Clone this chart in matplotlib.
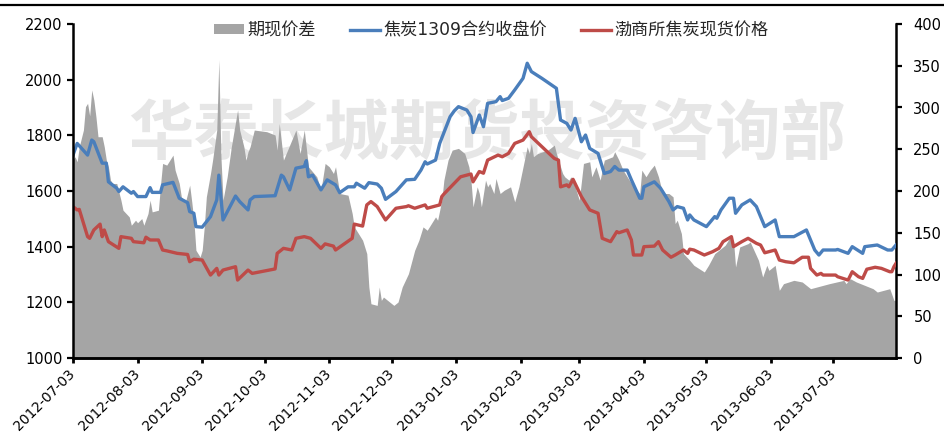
import matplotlib
matplotlib.use("Agg")
import matplotlib.pyplot as plt
from matplotlib.lines import Line2D
from matplotlib.patches import Patch
import pandas as pd

plt.rcParams["font.family"] = ["DejaVu Sans", "Noto Sans CJK SC"]
CJK = ["Noto Sans CJK SC", "DejaVu Sans"]

# ── data ────────────────────────────────────────────────────────────────────
fut_dates = [
    "2012-07-03", "2012-07-05", "2012-07-10", "2012-07-12", "2012-07-13", "2012-07-17",
    "2012-07-19", "2012-07-20", "2012-07-24", "2012-07-25", "2012-07-27", "2012-07-31",
    "2012-08-01", "2012-08-03", "2012-08-07", "2012-08-09", "2012-08-10", "2012-08-14",
    "2012-08-15", "2012-08-20", "2012-08-23", "2012-08-27", "2012-08-28", "2012-08-30",
    "2012-08-31", "2012-09-03", "2012-09-07", "2012-09-10", "2012-09-11", "2012-09-13",
    "2012-09-19", "2012-09-21", "2012-09-25", "2012-09-26", "2012-09-28", "2012-10-08",
    "2012-10-11", "2012-10-12", "2012-10-15", "2012-10-18", "2012-10-22", "2012-10-23",
    "2012-10-24", "2012-10-26", "2012-10-30", "2012-11-02", "2012-11-06", "2012-11-08",
    "2012-11-12", "2012-11-15", "2012-11-16", "2012-11-20", "2012-11-22", "2012-11-26",
    "2012-11-28", "2012-11-30", "2012-12-05", "2012-12-10", "2012-12-14", "2012-12-17",
    "2012-12-19", "2012-12-20", "2012-12-24", "2012-12-26", "2012-12-31", "2013-01-02",
    "2013-01-04", "2013-01-08", "2013-01-10", "2013-01-11", "2013-01-14", "2013-01-16",
    "2013-01-18", "2013-01-22", "2013-01-24", "2013-01-25", "2013-01-28", "2013-01-31",
    "2013-02-04", "2013-02-06", "2013-02-08", "2013-02-13", "2013-02-20", "2013-02-22",
    "2013-02-25", "2013-02-27", "2013-03-01", "2013-03-04", "2013-03-06", "2013-03-08",
    "2013-03-12", "2013-03-15", "2013-03-18", "2013-03-20", "2013-03-22", "2013-03-26",
    "2013-03-28", "2013-04-01", "2013-04-02", "2013-04-03", "2013-04-08", "2013-04-11",
    "2013-04-15", "2013-04-17", "2013-04-19", "2013-04-22", "2013-04-24", "2013-04-25",
    "2013-04-27", "2013-05-03", "2013-05-07", "2013-05-08", "2013-05-10", "2013-05-14",
    "2013-05-16", "2013-05-17", "2013-05-20", "2013-05-24", "2013-05-27", "2013-05-31",
    "2013-06-05", "2013-06-07", "2013-06-14", "2013-06-20", "2013-06-24", "2013-06-26",
    "2013-06-28", "2013-07-04", "2013-07-05", "2013-07-10", "2013-07-12", "2013-07-17",
    "2013-07-18", "2013-07-24", "2013-07-29", "2013-07-31", "2013-08-02",
]
fut_close = [
    1729, 1771, 1729, 1783, 1777, 1700,
    1700, 1633, 1610, 1598, 1615, 1592,
    1598, 1580, 1580, 1612, 1595, 1595,
    1622, 1631, 1574, 1558, 1526, 1520,
    1472, 1470, 1508, 1568, 1657, 1496,
    1582, 1562, 1532, 1568, 1580, 1583,
    1657, 1651, 1604, 1682, 1688, 1709,
    1651, 1657, 1604, 1640, 1622, 1594,
    1615, 1615, 1628, 1610, 1630, 1625,
    1610, 1570, 1598, 1640, 1642, 1675,
    1705, 1697, 1711, 1771, 1867, 1888,
    1903, 1891, 1867, 1810, 1873, 1831,
    1915, 1921, 1939, 1925, 1933, 1963,
    2005, 2059, 2029, 2005, 1969, 1855,
    1843, 1819, 1861, 1777, 1801, 1753,
    1735, 1663, 1670, 1688, 1675, 1675,
    1640, 1574, 1574, 1615, 1633, 1610,
    1562, 1532, 1544, 1538, 1496, 1514,
    1496, 1472, 1508, 1502, 1532, 1574,
    1574, 1520, 1550, 1568, 1544, 1472,
    1496, 1436, 1436, 1460, 1388, 1370,
    1388, 1388, 1390, 1376, 1400, 1376,
    1400, 1406, 1388, 1388, 1406,
]

spot_dates = [
    "2012-07-03", "2012-07-05", "2012-07-06", "2012-07-10", "2012-07-11", "2012-07-13",
    "2012-07-16", "2012-07-17", "2012-07-18", "2012-07-20", "2012-07-25", "2012-07-26",
    "2012-07-31", "2012-08-01", "2012-08-06", "2012-08-07", "2012-08-09", "2012-08-13",
    "2012-08-15", "2012-08-17", "2012-08-22", "2012-08-27", "2012-08-28", "2012-08-30",
    "2012-09-03", "2012-09-07", "2012-09-10", "2012-09-11", "2012-09-13", "2012-09-19",
    "2012-09-20", "2012-09-25", "2012-09-27", "2012-10-08", "2012-10-09", "2012-10-12",
    "2012-10-16", "2012-10-18", "2012-10-22", "2012-10-25", "2012-10-30", "2012-11-01",
    "2012-11-05", "2012-11-06", "2012-11-14", "2012-11-15", "2012-11-19", "2012-11-21",
    "2012-11-23", "2012-11-26", "2012-11-30", "2012-12-05", "2012-12-10", "2012-12-11",
    "2012-12-14", "2012-12-19", "2012-12-20", "2012-12-26", "2012-12-27", "2012-12-28",
    "2013-01-02", "2013-01-05", "2013-01-10", "2013-01-11", "2013-01-14", "2013-01-16",
    "2013-01-18", "2013-01-23", "2013-01-25", "2013-01-28", "2013-01-31", "2013-02-04",
    "2013-02-07", "2013-02-08", "2013-02-19", "2013-02-21", "2013-02-22", "2013-02-25",
    "2013-02-26", "2013-02-28", "2013-03-04", "2013-03-08", "2013-03-12", "2013-03-14",
    "2013-03-18", "2013-03-21", "2013-03-22", "2013-03-26", "2013-03-28", "2013-03-29",
    "2013-04-02", "2013-04-03", "2013-04-08", "2013-04-10", "2013-04-12", "2013-04-16",
    "2013-04-18", "2013-04-22", "2013-04-24", "2013-04-25", "2013-04-27", "2013-05-02",
    "2013-05-06", "2013-05-09", "2013-05-11", "2013-05-15", "2013-05-16", "2013-05-20",
    "2013-05-23", "2013-05-27", "2013-05-29", "2013-05-31", "2013-06-05", "2013-06-07",
    "2013-06-10", "2013-06-14", "2013-06-18", "2013-06-21", "2013-06-22", "2013-06-25",
    "2013-06-27", "2013-06-28", "2013-07-04", "2013-07-05", "2013-07-10", "2013-07-12",
    "2013-07-15", "2013-07-17", "2013-07-19", "2013-07-23", "2013-07-26", "2013-07-30",
    "2013-07-31", "2013-08-01", "2013-08-02",
]
spot_price = [
    1544, 1532, 1534, 1436, 1430, 1460,
    1481, 1436, 1460, 1418, 1394, 1436,
    1430, 1418, 1414, 1434, 1424, 1424,
    1388, 1385, 1376, 1372, 1346, 1355,
    1352, 1298, 1322, 1298, 1316, 1328,
    1280, 1316, 1304, 1320, 1376, 1394,
    1388, 1430, 1436, 1430, 1394, 1410,
    1402, 1388, 1430, 1481, 1474, 1550,
    1562, 1544, 1496, 1538, 1544, 1547,
    1538, 1550, 1538, 1550, 1580, 1589,
    1628, 1651, 1661, 1633, 1670, 1664,
    1711, 1729, 1723, 1735, 1771, 1783,
    1813, 1795, 1717, 1711, 1615, 1622,
    1615, 1642, 1580, 1532, 1520, 1430,
    1418, 1454, 1450, 1460, 1424, 1370,
    1370, 1400, 1402, 1418, 1388, 1362,
    1370, 1388, 1376, 1391, 1388, 1370,
    1382, 1394, 1418, 1436, 1400, 1418,
    1430, 1412, 1406, 1378, 1388, 1352,
    1346, 1342, 1362, 1362, 1322, 1298,
    1304, 1298, 1298, 1292, 1280, 1310,
    1292, 1286, 1319, 1326, 1322, 1310,
    1310, 1328, 1340,
]

spread_dates = [
    "2012-07-03", "2012-07-04", "2012-07-05", "2012-07-06", "2012-07-08", "2012-07-09",
    "2012-07-10", "2012-07-11", "2012-07-12", "2012-07-13", "2012-07-14", "2012-07-15",
    "2012-07-17", "2012-07-18", "2012-07-19", "2012-07-20", "2012-07-21", "2012-07-22",
    "2012-07-24", "2012-07-26", "2012-07-27", "2012-07-30", "2012-07-31", "2012-08-02",
    "2012-08-03", "2012-08-05", "2012-08-06", "2012-08-08", "2012-08-09", "2012-08-10",
    "2012-08-13", "2012-08-14", "2012-08-15", "2012-08-17", "2012-08-20", "2012-08-21",
    "2012-08-23", "2012-08-24", "2012-08-26", "2012-08-28", "2012-08-29", "2012-08-30",
    "2012-08-31", "2012-09-01", "2012-09-02", "2012-09-03", "2012-09-04", "2012-09-05",
    "2012-09-07", "2012-09-08", "2012-09-10", "2012-09-11", "2012-09-12", "2012-09-13",
    "2012-09-15", "2012-09-17", "2012-09-20", "2012-09-21", "2012-09-23", "2012-09-24",
    "2012-09-25", "2012-09-26", "2012-09-28", "2012-10-04", "2012-10-08", "2012-10-09",
    "2012-10-10", "2012-10-12", "2012-10-18", "2012-10-20", "2012-10-22", "2012-10-24",
    "2012-10-28", "2012-10-30", "2012-11-01", "2012-11-03", "2012-11-05", "2012-11-06",
    "2012-11-08", "2012-11-12", "2012-11-14", "2012-11-15", "2012-11-19", "2012-11-21",
    "2012-11-22", "2012-11-23", "2012-11-26", "2012-11-27", "2012-11-28", "2012-11-29",
    "2012-12-02", "2012-12-04", "2012-12-06", "2012-12-08", "2012-12-11", "2012-12-14",
    "2012-12-16", "2012-12-18", "2012-12-20", "2012-12-22", "2012-12-24", "2012-12-25",
    "2012-12-27", "2012-12-28", "2012-12-30", "2013-01-01", "2013-01-04", "2013-01-07",
    "2013-01-09", "2013-01-10", "2013-01-11", "2013-01-13", "2013-01-14", "2013-01-15",
    "2013-01-17", "2013-01-18", "2013-01-19", "2013-01-21", "2013-01-22", "2013-01-24",
    "2013-01-26", "2013-01-29", "2013-01-31", "2013-02-02", "2013-02-04", "2013-02-06",
    "2013-02-07", "2013-02-08", "2013-02-09", "2013-02-11", "2013-02-16", "2013-02-19",
    "2013-02-20", "2013-02-21", "2013-02-23", "2013-02-24", "2013-02-26", "2013-02-27",
    "2013-03-01", "2013-03-03", "2013-03-05", "2013-03-08", "2013-03-09", "2013-03-11",
    "2013-03-13", "2013-03-15", "2013-03-19", "2013-03-20", "2013-03-22", "2013-03-24",
    "2013-03-27", "2013-03-29", "2013-04-01", "2013-04-02", "2013-04-04", "2013-04-06",
    "2013-04-08", "2013-04-10", "2013-04-12", "2013-04-15", "2013-04-17", "2013-04-18",
    "2013-04-19", "2013-04-21", "2013-04-22", "2013-04-25", "2013-04-27", "2013-05-02",
    "2013-05-04", "2013-05-07", "2013-05-09", "2013-05-12", "2013-05-14", "2013-05-16",
    "2013-05-17", "2013-05-19", "2013-05-23", "2013-05-24", "2013-05-28", "2013-05-30",
    "2013-06-01", "2013-06-02", "2013-06-05", "2013-06-07", "2013-06-09", "2013-06-14",
    "2013-06-18", "2013-06-22", "2013-06-25", "2013-06-28", "2013-07-01", "2013-07-08",
    "2013-07-09", "2013-07-11", "2013-07-14", "2013-07-22", "2013-07-24", "2013-07-30",
    "2013-08-01", "2013-08-02",
]
spread_vals = [
    237, 241, 235, 253, 273, 301,
    305, 290, 321, 309, 289, 265,
    265, 253, 237, 229, 213, 209,
    209, 189, 177, 169, 159, 165,
    162, 167, 159, 173, 189, 175,
    177, 207, 233, 231, 243, 225,
    209, 193, 187, 207, 187, 165,
    129, 125, 121, 129, 157, 193,
    221, 237, 273, 357, 241, 189,
    217, 253, 297, 273, 253, 237,
    247, 253, 273, 271, 267, 249,
    281, 237, 273, 245, 273, 229,
    217, 201, 233, 229, 221, 229,
    197, 195, 173, 157, 141, 125,
    85, 65, 63, 85, 69, 73,
    67, 63, 67, 85, 101, 129,
    141, 157, 153, 161, 169, 165,
    189, 213, 237, 249, 251, 245,
    229, 213, 181, 205, 197, 181,
    213, 205, 209, 197, 215, 197,
    201, 205, 187, 205, 229, 253,
    245, 257, 241, 245, 249, 255,
    245, 237, 221, 217, 213, 217,
    205, 189, 233, 235, 217, 229,
    213, 237, 241, 247, 237, 225,
    213, 205, 197, 225, 217, 225,
    231, 217, 197, 197, 193, 161,
    165, 149, 125, 117, 111, 103,
    111, 125, 129, 135, 143, 141,
    109, 133, 137, 139, 117, 97,
    111, 105, 111, 81, 89, 93,
    91, 83, 85, 87, 89, 93,
    89, 95, 91, 83, 79, 83,
    69, 69,
]

tick_dates = [
    "2012-07-03", "2012-08-03", "2012-09-03", "2012-10-03", "2012-11-03", "2012-12-03",
    "2013-01-03", "2013-02-03", "2013-03-03", "2013-04-03", "2013-05-03", "2013-06-03",
    "2013-07-03",
]

LABEL_SPREAD = "期现价差"
LABEL_FUT = "焦炭1309合约收盘价"
LABEL_SPOT = "渤商所焦炭现货价格"
WATERMARK = "华泰长城期货投资咨询部"

GRAY = "#a5a5a5"
BLUE = "#4a7ebb"
RED = "#be4b48"

# ── figure ──────────────────────────────────────────────────────────────────
W, H = 944, 448
fig = plt.figure(figsize=(W / 100, H / 100), dpi=100)
ax = fig.add_axes([73 / W, 1 - 358 / H, (896 - 73) / W, (358 - 24) / H])
ax2 = ax.twinx()
ax.set_zorder(ax2.get_zorder() + 1)
ax.patch.set_visible(False)

# watermark sits under the spread area, lines sit above both
ax2.text(0.503, 0.67, WATERMARK, transform=ax2.transAxes, ha="center", va="center",
         fontsize=47, fontweight="bold", family=CJK, color="#e6e6e6", zorder=0.5)
sd = pd.to_datetime(spread_dates)
ax2.fill_between(sd, spread_vals, 0, color=GRAY, lw=0, zorder=1)

ax.plot(pd.to_datetime(fut_dates), fut_close, color=BLUE, lw=2.4,
        solid_joinstyle="round", label=LABEL_FUT)
ax.plot(pd.to_datetime(spot_dates), spot_price, color=RED, lw=2.4,
        solid_joinstyle="round", label=LABEL_SPOT)

ax.set_xlim(pd.Timestamp("2012-07-03"), pd.Timestamp("2013-08-02"))
ax.set_ylim(1000, 2200)
ax.set_yticks(range(1000, 2201, 200))
ax2.set_ylim(0, 400)
ax2.set_yticks(range(0, 401, 50))

td = pd.to_datetime(tick_dates)
ax.set_xticks(td)
ax.set_xticklabels(tick_dates, rotation=45, ha="right", va="center",
                   rotation_mode="anchor", fontsize=10)

for a in (ax, ax2):
    for s in a.spines.values():
        s.set_linewidth(1.8)
    a.spines["top"].set_visible(False)
ax.spines["right"].set_visible(False)
ax2.spines["left"].set_visible(False)

ax.tick_params(axis="y", direction="out", length=4.5, width=1.6, labelsize=10.5, pad=3)
ax.tick_params(axis="x", direction="out", length=3.5, width=2, pad=6)
ax2.tick_params(axis="y", direction="out", length=4.5, width=1.6, labelsize=10.5, pad=8)

handles = [Patch(facecolor=GRAY, edgecolor="none"),
           Line2D([], [], color=BLUE, lw=2.4),
           Line2D([], [], color=RED, lw=2.4)]
ax.legend(handles, [LABEL_SPREAD, LABEL_FUT, LABEL_SPOT], loc="center",
          bbox_to_anchor=(0.508, 0.982), ncol=3, frameon=False,
          prop={"family": ["DejaVu Sans", "Noto Sans CJK SC"], "size": 12.3},
          labelcolor="#262626", handlelength=1.75, handleheight=0.45,
          handletextpad=0.2, columnspacing=2.0)

# black rule across the top of the picture
fig.add_artist(Line2D([0, 1], [1 - 5 / H, 1 - 5 / H], color="black", lw=1.6,
                      transform=fig.transFigure))

fig.savefig("out.png", dpi=100)
